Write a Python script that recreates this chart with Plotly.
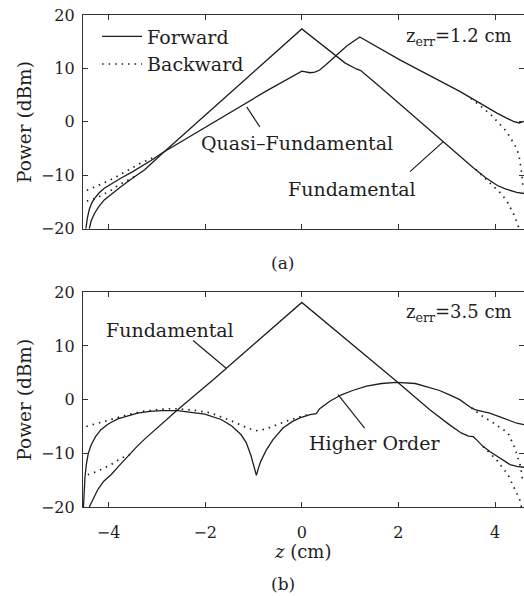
import plotly.graph_objects as go

# ---------------- data (a): z_err = 1.2 cm ----------------
fund_fwd_a_z = [-4.40, -4.36, -4.29, -4.20, -4.09, -3.92, -3.74, -3.50, -3.26, -3.08, -2.90, 0.0, 0.68, 0.90, 1.13, 1.22, 1.61, 2.93, 3.27, 3.55, 3.80, 3.95, 4.05, 4.20, 4.30, 4.45, 4.60]
fund_fwd_a_y = [-20.0, -18.5, -17.1, -15.8, -14.6, -13.3, -12.1, -10.5, -9.0, -7.5, -6.0, 17.4, 12.5, 11.0, 9.9, 9.6, 6.6, -3.7, -6.5, -8.6, -10.4, -11.3, -11.9, -12.5, -12.8, -13.2, -13.4]

quasi_fwd_a_z = [-4.47, -4.44, -4.40, -4.35, -4.29, -4.20, -4.09, -3.92, -3.74, -3.50, -3.26, -3.08, -2.91, -1.50, -0.73, 0.0, 0.08, 0.17, 0.27, 0.37, 0.50, 0.68, 0.93, 1.20, 2.03, 3.27, 3.55, 3.89, 4.05, 4.24, 4.38, 4.50, 4.60]
quasi_fwd_a_y = [-20.0, -18.0, -16.4, -15.2, -14.3, -13.3, -12.4, -11.4, -10.5, -9.3, -8.0, -7.0, -5.9, 1.6, 5.8, 9.5, 9.3, 9.2, 9.3, 9.7, 10.7, 12.2, 14.2, 15.9, 11.6, 5.7, 4.2, 2.5, 1.6, 0.7, 0.1, -0.2, 0.1]

fund_bwd_a_z = [-4.45, -4.26, -3.95, -3.81, -3.60, -3.40, None, 3.60, 3.80, 3.95, 4.10, 4.24, 4.31, 4.41, 4.48, 4.52]
fund_bwd_a_y = [-14.8, -14.3, -12.8, -11.9, -10.9, -9.9, None, -8.9, -10.6, -11.8, -13.2, -14.7, -16.0, -17.7, -19.5, -20.5]

quasi_bwd_a_z = [-4.45, -4.26, -4.12, -3.95, -3.81, -3.64, -3.50, -3.33, -3.05, None, 3.50, 3.65, 3.79, 3.93, 4.10, 4.24, 4.34, 4.45, 4.50, 4.53, 4.56, 4.58]
quasi_bwd_a_y = [-12.8, -12.1, -11.5, -10.8, -10.1, -9.3, -8.7, -7.7, -6.6, None, 4.4, 3.4, 2.3, 1.2, -0.4, -1.8, -3.3, -5.0, -6.5, -8.0, -10.0, -12.5]

# ---------------- data (b): z_err = 3.5 cm ----------------
fund_fwd_b_z = [-4.40, -4.33, -4.22, -4.10, -3.95, -3.78, -3.60, -3.43, -3.26, -2.57, -1.81, 0.0, 1.96, 2.65, 3.06, 3.30, 3.45, 3.55, 3.62, 3.75, 3.90, 4.03, 4.17, 4.31, 4.45, 4.60]
fund_fwd_b_y = [-20.0, -18.6, -16.7, -15.2, -14.0, -12.3, -10.5, -8.9, -7.4, -1.9, 3.9, 18.1, 3.4, -1.9, -4.7, -6.2, -6.8, -6.9, -7.5, -8.7, -9.7, -10.5, -11.4, -12.1, -12.45, -12.6]

ho_fwd_b_z = [-4.52, -4.51, -4.49, -4.46, -4.42, -4.36, -4.27, -4.16, -4.00, -3.81, -3.60, -3.40, -3.15, -2.91, -2.57, -2.30, -2.01, -1.67, -1.45, -1.26, -1.15, -1.05, -0.98, -0.94, -0.90, -0.85, -0.73, -0.60, -0.39, -0.20, -0.04, 0.17, 0.30, 0.37, 0.58, 0.82, 1.05, 1.34, 1.65, 1.96, 2.35, 2.65, 2.85, 3.06, 3.27, 3.41, 3.48, 3.52, 3.60, 3.75, 3.89, 4.10, 4.31, 4.45, 4.60]
ho_fwd_b_y = [-20.0, -17.0, -14.5, -12.0, -10.0, -8.4, -6.9, -5.6, -4.5, -3.6, -3.0, -2.5, -2.2, -2.05, -2.05, -2.3, -2.7, -3.7, -4.9, -6.5, -8.0, -10.5, -12.5, -14.1, -12.8, -11.5, -9.3, -7.5, -5.3, -4.1, -3.4, -2.8, -2.6, -1.7, -0.3, 0.9, 1.7, 2.5, 3.0, 3.2, 3.0, 2.3, 1.7, 0.9, 0.0, -0.9, -1.4, -1.6, -1.9, -2.2, -2.5, -3.2, -4.0, -4.4, -4.65]

ho_bwd_b_z = [-4.46, -4.30, -4.09, -3.85, -3.60, -3.30, -3.05, -2.80, -2.57, -2.20, -1.88, -1.50, -1.12, -0.95, -0.75, -0.59, -0.32, -0.11, 0.03, 0.17, None, 3.51, 3.69, 3.96, 4.13, 4.27, 4.41, 4.48, 4.53, 4.57]
ho_bwd_b_y = [-5.0, -4.6, -4.0, -3.4, -2.8, -2.2, -1.9, -1.7, -1.7, -2.0, -2.5, -3.8, -5.3, -5.8, -5.5, -4.9, -4.0, -3.4, -3.0, -2.8, None, -1.5, -2.8, -4.3, -5.3, -6.2, -9.0, -10.9, -12.5, -15.0]

fund_bwd_b_z = [-4.43, -4.22, -3.95, -3.74, -3.55, None, 3.75, 3.89, 4.03, 4.27, 4.41, 4.51, 4.56]
fund_bwd_b_y = [-14.0, -13.3, -12.1, -10.9, -10.2, None, -8.7, -9.9, -11.2, -14.0, -16.7, -18.6, -20.5]

x_ticks = [-4, -2, 0, 2, 4]
y_ticks = [-20, -10, 0, 10, 20]
x_range = [-4.53, 4.60]
y_range = [-20, 20]

# curve labels: (text, subplot, text_z, text_y, pointer_from, pointer_to)
labels = [
    ("Quasi\u2013Fundamental", "a", -0.10, -3.9, (-0.87, -0.93), (-1.14, 2.8)),
    ("Fundamental", "a", 1.03, -12.5, (2.24, -9.3), (2.93, -3.7)),
    ("Fundamental", "b", -2.73, 13.0, (-2.25, 11.0), (-1.56, 5.8)),
    ("Higher Order", "b", 1.51, -8.0, (1.30, -5.3), (0.75, 0.93)),
]
zerr_labels = [("z<sub>err</sub>=1.2 cm", "a", 3.25, 15.9), ("z<sub>err</sub>=3.5 cm", "b", 3.25, 16.1)]

# ---------------- figure ----------------
FONT = "DejaVu Serif"
INK = "#1e1e1e"
solid = dict(color=INK, width=1.3)
dotted = dict(color=INK, width=1.7, dash="1.5px,5px")

fig = go.Figure()
fig.add_trace(go.Scatter(x=fund_bwd_a_z, y=fund_bwd_a_y, mode="lines", line=dotted, name="Backward",
                         legendgroup="bwd", showlegend=False, connectgaps=False, xaxis="x", yaxis="y"))
fig.add_trace(go.Scatter(x=quasi_bwd_a_z, y=quasi_bwd_a_y, mode="lines", line=dotted, name="Backward",
                         legendgroup="bwd", showlegend=False, connectgaps=False, xaxis="x", yaxis="y"))
fig.add_trace(go.Scatter(x=fund_fwd_a_z, y=fund_fwd_a_y, mode="lines", line=solid, name="Forward",
                         legendgroup="fwd", showlegend=True, xaxis="x", yaxis="y", legendrank=1))
fig.add_trace(go.Scatter(x=quasi_fwd_a_z, y=quasi_fwd_a_y, mode="lines", line=solid, name="Forward",
                         legendgroup="fwd", showlegend=False, xaxis="x", yaxis="y"))
fig.add_trace(go.Scatter(x=[None], y=[None], mode="lines", line=dotted, name="Backward",
                         legendgroup="bwd", showlegend=True, xaxis="x", yaxis="y", legendrank=2))

fig.add_trace(go.Scatter(x=fund_bwd_b_z, y=fund_bwd_b_y, mode="lines", line=dotted, showlegend=False,
                         connectgaps=False, xaxis="x2", yaxis="y2"))
fig.add_trace(go.Scatter(x=ho_bwd_b_z, y=ho_bwd_b_y, mode="lines", line=dotted, showlegend=False,
                         connectgaps=False, xaxis="x2", yaxis="y2"))
fig.add_trace(go.Scatter(x=fund_fwd_b_z, y=fund_fwd_b_y, mode="lines", line=solid, showlegend=False,
                         xaxis="x2", yaxis="y2"))
fig.add_trace(go.Scatter(x=ho_fwd_b_z, y=ho_fwd_b_y, mode="lines", line=solid, showlegend=False,
                         xaxis="x2", yaxis="y2"))

axis_common = dict(showline=True, linecolor="#333", linewidth=1.3, mirror="ticks", ticks="inside",
                   ticklen=5, tickwidth=1.2, tickcolor="#333", showgrid=False, zeroline=False,
                   tickfont=dict(family=FONT, size=16, color=INK))

fig.update_layout(
    width=524, height=596, autosize=False,
    margin=dict(l=83, r=0, t=15, b=88.5),
    paper_bgcolor="white", plot_bgcolor="white",
    font=dict(family=FONT, size=17, color=INK),
    xaxis=dict(axis_common, domain=[0, 1], anchor="y", range=x_range, tickvals=x_ticks, showticklabels=False),
    yaxis=dict(axis_common, domain=[0.5655, 1], anchor="x", range=y_range, tickvals=y_ticks, ticklabelstandoff=4),
    xaxis2=dict(axis_common, domain=[0, 1], anchor="y2", range=x_range, tickvals=x_ticks, ticklabelstandoff=11),
    yaxis2=dict(axis_common, domain=[0, 0.4365], anchor="x2", range=y_range, tickvals=y_ticks, ticklabelstandoff=4),
    legend=dict(x=0.032, y=0.995, xanchor="left", yanchor="top", bgcolor="rgba(0,0,0,0)",
                font=dict(family=FONT, size=19, color=INK), itemwidth=40, tracegroupgap=0),
    showlegend=True,
)

ref = {"a": ("x", "y"), "b": ("x2", "y2")}
for text, sp, tz, ty, p0, p1 in labels:
    xr, yr = ref[sp]
    fig.add_annotation(x=tz, y=ty, xref=xr, yref=yr, text=text, showarrow=False,
                       font=dict(family=FONT, size=19, color=INK), xanchor="center", yanchor="middle")
    fig.add_shape(type="line", x0=p0[0], y0=p0[1], x1=p1[0], y1=p1[1], xref=xr, yref=yr,
                  line=dict(color=INK, width=1.2))
for text, sp, tz, ty in zerr_labels:
    xr, yr = ref[sp]
    fig.add_annotation(x=tz, y=ty, xref=xr, yref=yr, text=text, showarrow=False,
                       font=dict(family=FONT, size=18, color=INK), xanchor="center", yanchor="middle")

for yr in ["y", "y2"]:
    fig.add_annotation(x=-0.1315, y=0.5, xref="paper", yref=f"{yr} domain", text="Power (dBm)",
                       textangle=-90, showarrow=False, font=dict(family=FONT, size=18.5, color=INK),
                       xanchor="center", yanchor="middle")

fig.add_annotation(x=0.4966, y=-0.0897, xref="paper", yref="paper", text="<i>z</i> (cm)", showarrow=False,
                   font=dict(family=FONT, size=18, color=INK), xanchor="center", yanchor="middle")
fig.add_annotation(x=0.4535, y=0.4964, xref="paper", yref="paper", text="(a)", showarrow=False,
                   font=dict(family=FONT, size=17, color=INK), xanchor="center", yanchor="middle")
fig.add_annotation(x=0.4535, y=-0.1574, xref="paper", yref="paper", text="(b)", showarrow=False,
                   font=dict(family=FONT, size=17, color=INK), xanchor="center", yanchor="middle")

fig.write_html("out.html")
